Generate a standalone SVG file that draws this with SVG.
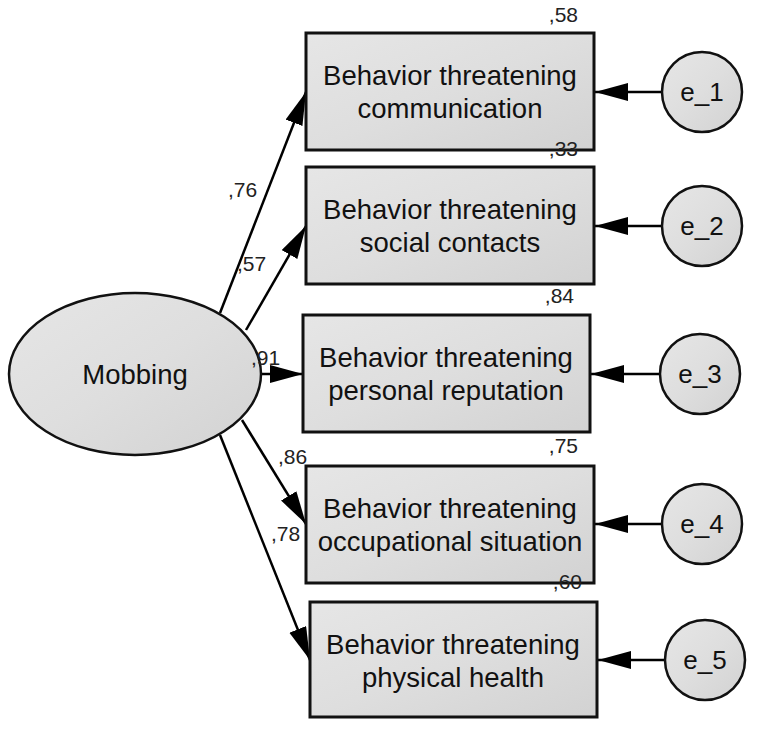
<svg xmlns="http://www.w3.org/2000/svg" width="757" height="734" viewBox="0 0 757 734">
<defs>
<linearGradient id="g" x1="0" y1="0" x2="1" y2="1">
<stop offset="0" stop-color="#e6e6e6"/>
<stop offset="0.5" stop-color="#dedede"/>
<stop offset="1" stop-color="#d2d2d2"/>
</linearGradient>
<marker id="ah" markerUnits="userSpaceOnUse" markerWidth="36" markerHeight="20" refX="33" refY="9" orient="auto" viewBox="0 0 36 20">
<path d="M0,0 L33,9 L0,18 Z" fill="#000"/>
</marker>
</defs>
<style>
.box{fill:url(#g);stroke:#111;stroke-width:3}
.ell{fill:url(#g);stroke:#111;stroke-width:2.5}
.t{font-family:"Liberation Sans",Arial,sans-serif;font-size:27.5px;fill:#111;text-anchor:middle}
.et{font-family:"Liberation Sans",Arial,sans-serif;font-size:26px;fill:#111;text-anchor:middle}
.n{font-family:"Liberation Sans",Arial,sans-serif;font-size:21px;fill:#222}
.r{text-anchor:end}
.c line{stroke:#000;stroke-width:2.5;marker-end:url(#ah)}
</style>
<g id="connectors" class="c">
<line x1="220" y1="313" x2="306" y2="92"/>
<line x1="246" y1="330" x2="306" y2="226"/>
<line x1="260" y1="374" x2="303" y2="374"/>
<line x1="242" y1="420" x2="306" y2="524"/>
<line x1="220" y1="435" x2="310" y2="660"/>
<line x1="662" y1="92" x2="595" y2="92"/>
<line x1="662" y1="226" x2="595" y2="226"/>
<line x1="660" y1="374" x2="591" y2="374"/>
<line x1="662" y1="524" x2="595" y2="524"/>
<line x1="665" y1="660" x2="598" y2="660"/>
</g>
<g id="mobbing">
<ellipse class="ell" cx="135" cy="374" rx="126" ry="81"/>
<text class="t" x="135" y="384">Mobbing</text>
</g>
<g id="box1">
<rect class="box" x="306" y="33" width="288" height="117"/>
<text class="t" x="450" y="85">Behavior threatening</text>
<text class="t" x="450" y="118">communication</text>
</g>
<g id="box2">
<rect class="box" x="306" y="167" width="288" height="117"/>
<text class="t" x="450" y="219">Behavior threatening</text>
<text class="t" x="450" y="252">social contacts</text>
</g>
<g id="box3">
<rect class="box" x="303" y="315" width="287" height="117"/>
<text class="t" x="446" y="367">Behavior threatening</text>
<text class="t" x="446" y="400">personal reputation</text>
</g>
<g id="box4">
<rect class="box" x="306" y="466" width="288" height="117"/>
<text class="t" x="450" y="518">Behavior threatening</text>
<text class="t" x="450" y="551">occupational situation</text>
</g>
<g id="box5">
<rect class="box" x="310" y="602" width="287" height="115"/>
<text class="t" x="453" y="654">Behavior threatening</text>
<text class="t" x="453" y="687">physical health</text>
</g>
<g id="e1"><circle class="ell" cx="702" cy="92" r="40"/><text class="et" x="702" y="101">e_1</text></g>
<g id="e2"><circle class="ell" cx="702" cy="226" r="40"/><text class="et" x="702" y="235">e_2</text></g>
<g id="e3"><circle class="ell" cx="700" cy="374" r="40"/><text class="et" x="700" y="383">e_3</text></g>
<g id="e4"><circle class="ell" cx="702" cy="524" r="40"/><text class="et" x="702" y="533">e_4</text></g>
<g id="e5"><circle class="ell" cx="705" cy="660" r="40"/><text class="et" x="705" y="669">e_5</text></g>
<g id="labels">
<text class="n r" x="578" y="22">,58</text>
<text class="n r" x="578" y="156">,33</text>
<text class="n r" x="574" y="303">,84</text>
<text class="n r" x="578" y="453">,75</text>
<text class="n r" x="582" y="589">,60</text>
<text class="n" x="228" y="197">,76</text>
<text class="n" x="237" y="271">,57</text>
<text class="n" x="251" y="365">,91</text>
<text class="n" x="278" y="464">,86</text>
<text class="n" x="271" y="541">,78</text>
</g>
</svg>
